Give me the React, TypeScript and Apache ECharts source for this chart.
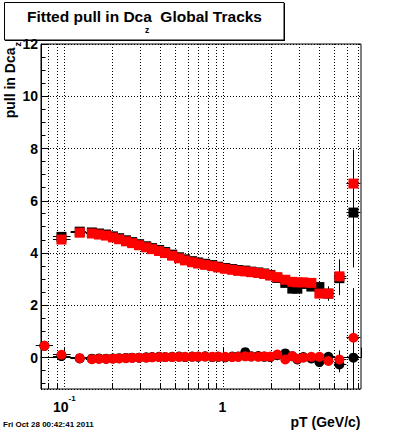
import React, { useEffect, useRef } from 'react';
import * as echarts from 'echarts';

const FONT = '"Liberation Sans", Arial, Helvetica, sans-serif';

// bin centres (pT, GeV/c)
const PT = [0.075, 0.096, 0.125, 0.149, 0.165, 0.183, 0.202, 0.221, 0.244, 0.267, 0.295, 0.327, 0.356, 0.394, 0.430, 0.476, 0.526, 0.574, 0.635, 0.693, 0.767, 0.849, 0.926, 1.025, 1.134, 1.237, 1.369, 1.494, 1.653, 1.803, 1.967, 2.176, 2.443, 2.704, 2.908, 3.171, 3.561, 3.999, 4.555, 5.342, 6.543];

// sigma (squares)
const SQ_BLACK = [null, 4.62, 4.82, 4.79, 4.75, 4.71, 4.64, 4.57, 4.49, 4.42, 4.34, 4.26, 4.19, 4.12, 4.04, 3.94, 3.84, 3.76, 3.69, 3.64, 3.59, 3.54, 3.48, 3.43, 3.39, 3.35, 3.33, 3.29, 3.26, 3.22, 3.16, 3.05, 2.86, 2.64, 2.64, 2.82, 2.72, 2.70, 2.45, 3.04, 5.55];
const SQ_RED = [null, 4.52, 4.78, 4.75, 4.71, 4.67, 4.60, 4.53, 4.45, 4.38, 4.30, 4.22, 4.15, 4.08, 4.00, 3.90, 3.80, 3.72, 3.65, 3.60, 3.55, 3.50, 3.45, 3.40, 3.36, 3.32, 3.30, 3.27, 3.24, 3.20, 3.14, 3.08, 2.98, 2.90, 2.88, 2.88, 2.86, 2.45, 2.45, 3.11, 6.66];
const SQ_ERR_BLACK = [0, 0.05, 0.05, 0.05, 0.05, 0.05, 0.05, 0.05, 0.05, 0.05, 0.05, 0.05, 0.05, 0.05, 0.05, 0.05, 0.05, 0.05, 0.05, 0.05, 0.05, 0.05, 0.05, 0.05, 0.05, 0.05, 0.05, 0.05, 0.05, 0.05, 0.05, 0.06, 0.07, 0.08, 0.09, 0.10, 0.12, 0.15, 0.27, 0.65, 2.1];
const SQ_ERR_RED = [0, 0.05, 0.05, 0.05, 0.05, 0.05, 0.05, 0.05, 0.05, 0.05, 0.05, 0.05, 0.05, 0.05, 0.05, 0.05, 0.05, 0.05, 0.05, 0.05, 0.05, 0.05, 0.05, 0.05, 0.05, 0.05, 0.05, 0.05, 0.05, 0.05, 0.05, 0.06, 0.07, 0.08, 0.09, 0.10, 0.12, 0.15, 0.27, 0.65, 1.3];

// mean (circles)
const CI_BLACK = [0.45, 0.06, -0.03, -0.04, -0.03, -0.04, -0.03, -0.02, -0.01, 0.0, 0.0, 0.01, 0.02, 0.03, 0.02, 0.03, 0.04, 0.02, 0.04, 0.03, 0.05, 0.02, 0.03, 0.01, 0.04, 0.04, 0.21, 0.05, 0.06, 0.03, 0.02, 0.09, 0.16, 0.05, -0.07, 0.02, -0.03, -0.17, 0.03, -0.26, 0.0];
const CI_RED = [0.45, 0.11, -0.02, -0.06, -0.05, -0.05, -0.04, -0.03, -0.02, -0.01, 0.0, 0.0, 0.01, 0.02, 0.02, 0.02, 0.03, 0.03, 0.03, 0.04, 0.04, 0.03, 0.04, 0.03, 0.02, 0.03, 0.05, 0.04, 0.03, 0.05, 0.04, 0.12, -0.07, 0.06, -0.04, 0.0, 0.03, 0.03, -0.13, -0.07, 0.76];
const CI_ERR_BLACK = [0.03, 0.03, 0.02, 0.02, 0.02, 0.02, 0.02, 0.02, 0.02, 0.02, 0.02, 0.02, 0.02, 0.02, 0.02, 0.02, 0.02, 0.02, 0.02, 0.02, 0.02, 0.02, 0.02, 0.02, 0.02, 0.02, 0.03, 0.03, 0.03, 0.03, 0.04, 0.04, 0.05, 0.06, 0.07, 0.08, 0.09, 0.10, 0.15, 0.30, 2.6];
const CI_ERR_RED = [0.03, 0.03, 0.02, 0.02, 0.02, 0.02, 0.02, 0.02, 0.02, 0.02, 0.02, 0.02, 0.02, 0.02, 0.02, 0.02, 0.02, 0.02, 0.02, 0.02, 0.02, 0.02, 0.02, 0.02, 0.02, 0.02, 0.03, 0.03, 0.03, 0.03, 0.04, 0.04, 0.05, 0.06, 0.07, 0.08, 0.09, 0.10, 0.15, 0.35, 1.9];

// axis decorations
const X_MIN = 0.0714;
const X_MAX = 7.3;
const Y_MIN = -1.2;
const Y_MAX = 12;
const X_GRID = [0.08, 0.09, 0.1, 0.2, 0.3, 0.4, 0.5, 0.6, 0.7, 0.8, 0.9, 1, 2, 3, 4, 5, 6, 7];
const X_MAJOR = [0.1, 1];
const Y_MINOR = [-1, -0.5, 0.5, 1, 1.5, 2.5, 3, 3.5, 4.5, 5, 5.5, 6.5, 7, 7.5, 8.5, 9, 9.5, 10.5, 11, 11.5];

const crisp = (v: number) => Math.round(v - 0.5) + 0.5;
const clampY = (v: number) => Math.max(Y_MIN, Math.min(Y_MAX, v));

function errRows(vals: (number | null)[], errs: number[]) {
  const rows: number[][] = [];
  PT.forEach((p, i) => {
    const v = vals[i];
    if (v == null) return;
    const lo = i > 0 ? Math.sqrt(p * PT[i - 1]) : p / Math.sqrt(PT[i + 1] / p);
    const hi = i < PT.length - 1 ? Math.sqrt(p * PT[i + 1]) : p * Math.sqrt(p / PT[i - 1]);
    rows.push([p, v, lo, hi, clampY(v - errs[i]), clampY(v + errs[i])]);
  });
  return rows;
}

function pts(vals: (number | null)[]) {
  const out: number[][] = [];
  PT.forEach((p, i) => {
    const v = vals[i];
    if (v != null) out.push([p, v]);
  });
  return out;
}

const errSeries = (vals: (number | null)[], errs: number[]) => ({
  type: 'custom',
  silent: true,
  encode: { x: 0, y: 1 },
  data: errRows(vals, errs),
  renderItem: (_p: any, api: any) => {
    const x = api.value(0), y = api.value(1);
    const c = api.coord([x, y]);
    const l = api.coord([api.value(2), y]);
    const r = api.coord([api.value(3), y]);
    const t = api.coord([x, api.value(5)]);
    const b = api.coord([x, api.value(4)]);
    const cy = crisp(c[1]);
    const cx = crisp(c[0]);
    return {
      type: 'group',
      children: [
        { type: 'line', shape: { x1: l[0], y1: cy, x2: r[0], y2: cy }, style: { stroke: '#000', lineWidth: 1 } },
        { type: 'line', shape: { x1: cx, y1: t[1], x2: cx, y2: b[1] }, style: { stroke: '#000', lineWidth: 1 } },
      ],
    };
  },
});

export default function App() {
  const ref = useRef<HTMLDivElement>(null);
  useEffect(() => {
    if (!ref.current) return;
    const chart = echarts.init(ref.current, null, { renderer: 'svg' });
    const textStyle = (text: string, size: number, align: string) => ({
      text,
      font: `bold ${size}px ${FONT}`,
      fontSize: size,
      fontWeight: 'bold',
      fontFamily: FONT,
      fill: '#000',
      align,
      textAlign: align,
      verticalAlign: 'middle',
      textVerticalAlign: 'middle',
    });
    chart.setOption({
      animation: false,
      backgroundColor: '#fff',
      grid: {
        left: 41,
        top: 44,
        width: 320,
        height: 345,
        show: true,
        borderColor: '#000',
        borderWidth: 1,
        backgroundColor: 'transparent',
        containLabel: false,
        outerBoundsMode: 'none',
      },
      xAxis: {
        type: 'log',
        logBase: 10,
        min: X_MIN,
        max: X_MAX,
        axisLine: { show: true, lineStyle: { color: '#000', width: 1 } },
        axisTick: { show: true, inside: true, length: 10, lineStyle: { color: '#000', width: 1 } },
        splitLine: { show: false },
        minorTick: { show: false },
        axisLabel: {
          margin: 5,
          formatter: (v: number) => {
            if (Math.abs(v - 0.1) < 1e-6) return '{b|10}{s|-1}';
            if (Math.abs(v - 1) < 1e-6) return '{b|1}{s| }';
            return '';
          },
          rich: {
            b: { fontSize: 14, fontWeight: 'bold', fontFamily: FONT, color: '#000', verticalAlign: 'bottom' },
            s: { fontSize: 8, fontWeight: 'bold', fontFamily: FONT, color: '#000', verticalAlign: 'bottom', padding: [0, 0, 12, 0] },
          },
        },
      },
      yAxis: {
        type: 'value',
        min: Y_MIN,
        max: Y_MAX,
        splitNumber: 7,
        minInterval: 2,
        maxInterval: 2,
        axisLine: { show: true, lineStyle: { color: '#000', width: 1 } },
        axisTick: { show: true, inside: true, length: 8, lineStyle: { color: '#000', width: 1 } },
        splitLine: { show: true, lineStyle: { color: '#000', width: 1, type: [1, 2] } },
        axisLabel: {
          margin: 3,
          showMinLabel: false,
          fontSize: 14,
          fontWeight: 'bold',
          fontFamily: FONT,
          color: '#000',
        },
      },
      graphic: [
        { type: 'rect', shape: { x: 4.5, y: 2.5, width: 279.5, height: 37.5 }, style: { fill: '#fff', stroke: '#000', lineWidth: 1 } },
        { type: 'line', shape: { x1: 284.5, y1: 3, x2: 284.5, y2: 40.5 }, style: { stroke: '#000', lineWidth: 1 } },
        { type: 'line', shape: { x1: 5, y1: 40.5, x2: 285, y2: 40.5 }, style: { stroke: '#000', lineWidth: 1 } },
        { type: 'text', x: 27, y: 16, style: textStyle('Fitted pull in Dca', 15.5, 'left') },
        { type: 'text', x: 147, y: 30, style: textStyle('z', 8.5, 'center') },
        { type: 'text', x: 262, y: 16, style: textStyle('Global Tracks', 15.5, 'right') },
        { type: 'text', x: 10, y: 47.5, rotation: Math.PI / 2, style: textStyle('pull in Dca', 14, 'right') },
        { type: 'text', x: 18, y: 46.5, rotation: Math.PI / 2, style: textStyle('z', 9, 'left') },
        { type: 'text', x: 360.5, y: 421.5, style: textStyle('pT (GeV/c)', 14, 'right') },
        { type: 'text', x: 3, y: 424.7, style: textStyle('Fri Oct 28 00:42:41 2011', 8, 'left') },
      ],
      series: [
        {
          type: 'custom',
          silent: true,
          encode: { x: 0, y: 1 },
          data: X_GRID.map((v) => [v, Y_MIN]),
          renderItem: (_p: any, api: any) => {
            const v = api.value(0);
            const b = api.coord([v, Y_MIN]);
            const t = api.coord([v, Y_MAX]);
            const x = crisp(b[0]);
            const children: any[] = [
              { type: 'line', shape: { x1: x, y1: t[1], x2: x, y2: b[1] }, style: { stroke: '#000', lineWidth: 1, lineDash: [1, 2] } },
            ];
            if (!X_MAJOR.some((m) => Math.abs(m - v) < 1e-9)) {
              children.push({ type: 'line', shape: { x1: x, y1: b[1], x2: x, y2: b[1] - 5 }, style: { stroke: '#000', lineWidth: 1 } });
            }
            return { type: 'group', children };
          },
        },
        {
          type: 'custom',
          silent: true,
          encode: { x: 0, y: 1 },
          data: Y_MINOR.map((v) => [X_MIN, v]),
          renderItem: (_p: any, api: any) => {
            const p = api.coord([X_MIN, api.value(1)]);
            const y = crisp(p[1]);
            return { type: 'line', shape: { x1: p[0], y1: y, x2: p[0] + 4.5, y2: y }, style: { stroke: '#000', lineWidth: 1 } };
          },
        },
        errSeries(SQ_BLACK, SQ_ERR_BLACK),
        errSeries(CI_BLACK, CI_ERR_BLACK),
        { type: 'scatter', silent: true, data: pts(SQ_BLACK), symbol: 'rect', symbolSize: 10, itemStyle: { color: '#000', opacity: 1 } },
        { type: 'scatter', silent: true, data: pts(CI_BLACK), symbol: 'circle', symbolSize: 10, itemStyle: { color: '#000', opacity: 1 } },
        errSeries(SQ_RED, SQ_ERR_RED),
        errSeries(CI_RED, CI_ERR_RED),
        { type: 'scatter', silent: true, data: pts(SQ_RED), symbol: 'rect', symbolSize: 10, itemStyle: { color: '#ff0000', opacity: 1 } },
        { type: 'scatter', silent: true, data: pts(CI_RED), symbol: 'circle', symbolSize: 10, itemStyle: { color: '#ff0000', opacity: 1 } },
      ],
    });
    return () => chart.dispose();
  }, []);
  return <div ref={ref} style={{ position: 'fixed', left: 0, top: 0, width: 400, height: 433 }} />;
}
